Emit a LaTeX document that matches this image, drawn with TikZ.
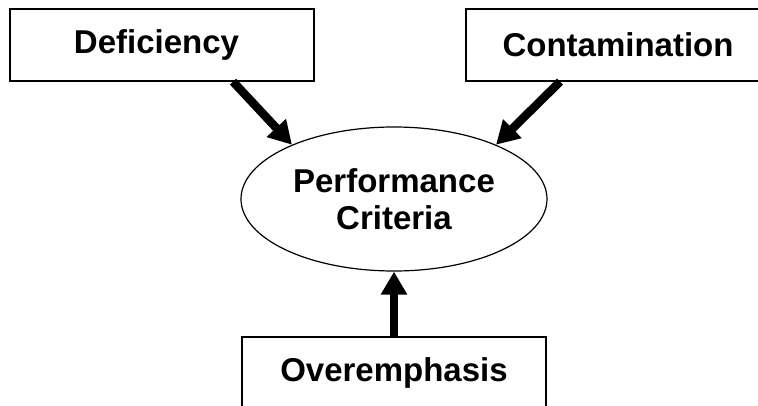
\documentclass[tikz,border=0pt]{standalone}
\usepackage{fontspec}
\setmainfont{Liberation Sans}
\usetikzlibrary{arrows.meta,shapes.geometric}
\tikzset{
  label font/.style={font=\bfseries\fontsize{33}{37}\selectfont},
  factor box/.style={draw=black, line width=1.3pt, fill=white,
    minimum width=304pt, minimum height=72pt, inner sep=0pt, label font},
  criteria/.style={draw=black, line width=1.2pt, ellipse,
    minimum width=306pt, minimum height=144pt, inner sep=0pt,
    align=center, label font},
  heavy arrow/.style={line width=8.5pt,
    -{Triangle[length=23pt,width=25pt]}},
}
\begin{document}
\begin{tikzpicture}[x=1pt,y=-1pt]
  \useasboundingbox (0,0) rectangle (758,406);
  \clip (0,0) rectangle (758,406);
  \fill[white] (0,0) rectangle (758,406);

  % influences on the criteria
  \node[factor box] (def) at (162,45) {Deficiency\hspace*{11pt}};
  \node[factor box] (con) at (618,45) {Contamination};
  \node[factor box] (ove) at (394,373) {Overemphasis};

  % central ellipse
  \node[criteria] (pc) at (394,199) {Performance\\Criteria};

  % arrows into the ellipse
  \draw[heavy arrow] ([xshift=71pt]def.south) -- (pc.152);
  \draw[heavy arrow] ([xshift=-58pt]con.south) -- (pc.28);
  \draw[heavy arrow] (ove.north) -- (pc.south);
\end{tikzpicture}
\end{document}
